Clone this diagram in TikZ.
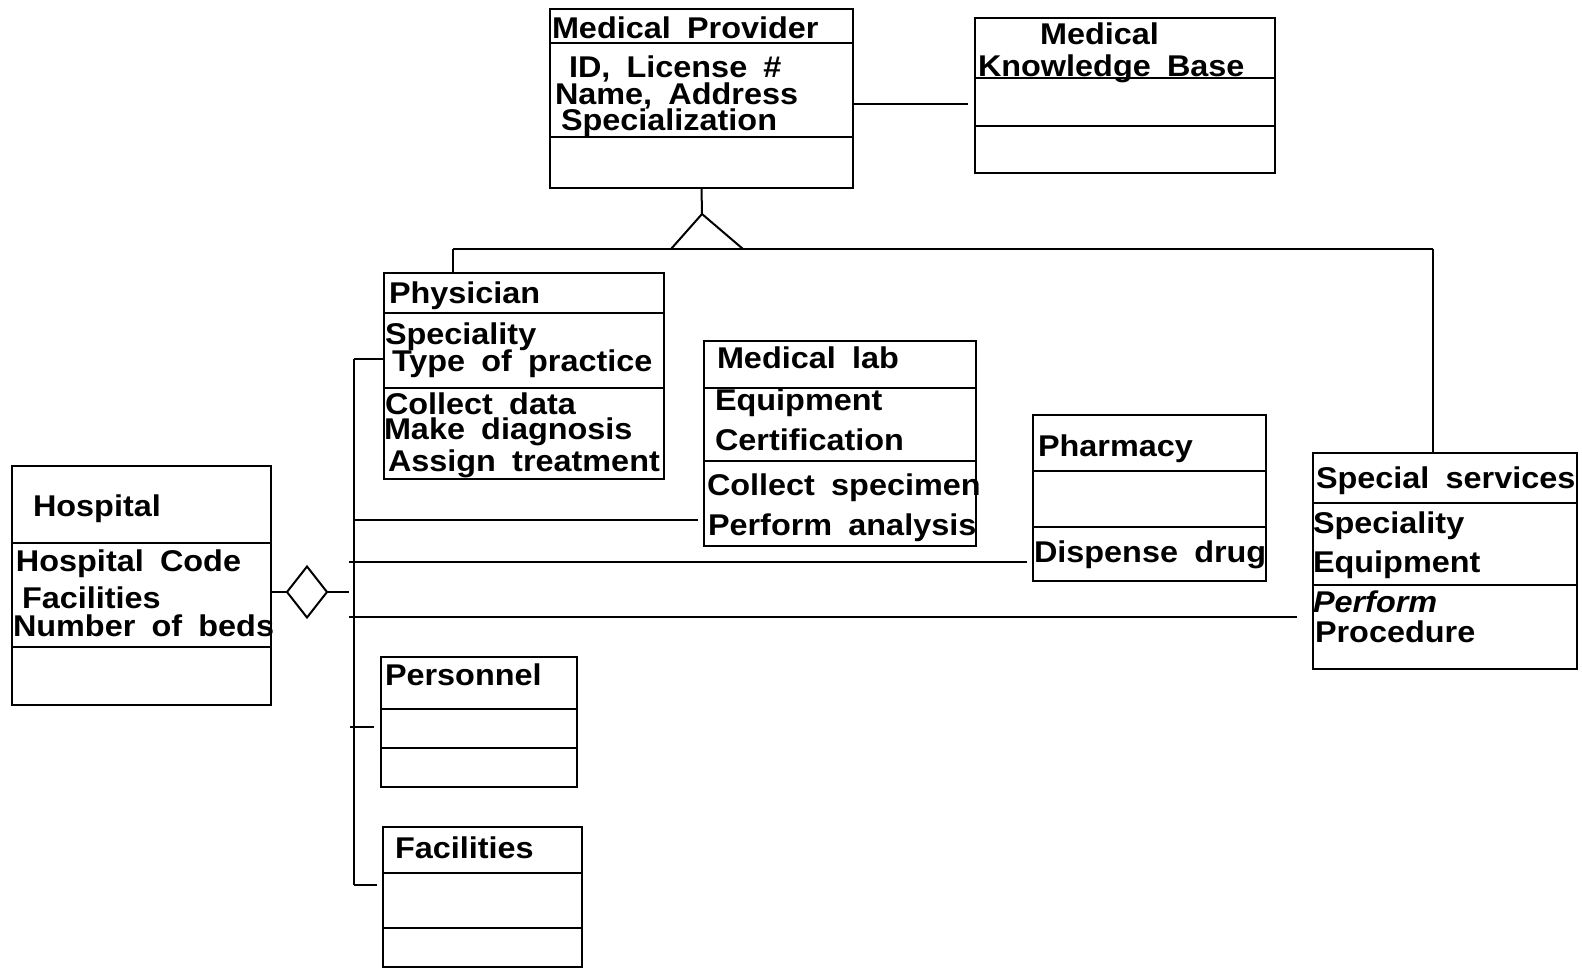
\documentclass[tikz,border=0pt]{standalone}
\usepackage{fontspec}
\newfontfamily\umlfont{Liberation Sans}[FakeStretch=1.08, WordSpace=1.8]
\usetikzlibrary{shapes.geometric,calc}

\tikzset{
  classbox/.style={draw, line width=2.4pt, inner sep=0pt, outer sep=0pt, anchor=north west},
  sep/.style={line width=2pt},
  link/.style={line width=2pt},
  txt/.style={anchor=base west, inner sep=0pt, outer sep=0pt,
              font=\umlfont\bfseries\fontsize{30}{34}\selectfont},
  txtit/.style={txt, font=\umlfont\bfseries\itshape\fontsize{30}{34}\selectfont},
}

\begin{document}
\begin{tikzpicture}[x=1pt, y=-1pt]
\useasboundingbox (0,0) rectangle (1582,970);

% ---------- Medical Provider ----------
\node[classbox, minimum width=303pt, minimum height=179pt] (mp) at (550,9) {};
\draw[sep] (mp.west |- 0,43) -- (mp.east |- 0,43);
\draw[sep] (mp.west |- 0,137) -- (mp.east |- 0,137);
\node[txt] (mp-name) at (552,38) {Medical Provider};
\node[txt] (mp-a1) at (569,77) {ID, License \#};
\node[txt] (mp-a2) at (555,104) {Name, Address};
\node[txt] (mp-a3) at (561,130) {Specialization};

% ---------- Medical Knowledge Base ----------
\node[classbox, minimum width=300pt, minimum height=155pt] (mkb) at (975,18) {};
\draw[sep] (mkb.west |- 0,78) -- (mkb.east |- 0,78);
\draw[sep] (mkb.west |- 0,126) -- (mkb.east |- 0,126);
\node[txt] (mkb-n1) at (1040,44) {Medical};
\node[txt] (mkb-n2) at (978,76) {Knowledge Base};

\draw[link] (mp.east |- 0,104) -- ($(mkb.west |- 0,104)+(-7,0)$);

% ---------- Physician ----------
\node[classbox, minimum width=280pt, minimum height=206pt] (phys) at (384,273) {};
\draw[sep] (phys.west |- 0,313) -- (phys.east |- 0,313);
\draw[sep] (phys.west |- 0,388) -- (phys.east |- 0,388);
\node[txt] (phys-name) at (389,303) {Physician};
\node[txt] (phys-a1) at (385,344) {Speciality};
\node[txt] (phys-a2) at (392,371) {Type of practice};
\node[txt] (phys-o1) at (385,414) {Collect data};
\node[txt] (phys-o2) at (384,439) {Make diagnosis};
\node[txt] (phys-o3) at (388,471) {Assign treatment};

% ---------- Medical lab ----------
\node[classbox, minimum width=272pt, minimum height=205pt] (lab) at (704,341) {};
\draw[sep] (lab.west |- 0,388) -- (lab.east |- 0,388);
\draw[sep] (lab.west |- 0,461) -- (lab.east |- 0,461);
\node[txt] (lab-name) at (717,368) {Medical lab};
\node[txt] (lab-a1) at (715,410) {Equipment};
\node[txt] (lab-a2) at (715,450) {Certification};
\node[txt] (lab-o1) at (707,495) {Collect specimen};
\node[txt] (lab-o2) at (708,535) {Perform analysis};

% ---------- Pharmacy ----------
\node[classbox, minimum width=233pt, minimum height=166pt] (pharm) at (1033,415) {};
\draw[sep] (pharm.west |- 0,471) -- (pharm.east |- 0,471);
\draw[sep] (pharm.west |- 0,527) -- (pharm.east |- 0,527);
\node[txt] (pharm-name) at (1038,456) {Pharmacy};
\node[txt] (pharm-o1) at (1034,562) {Dispense drug};

% ---------- Special services ----------
\node[classbox, minimum width=264pt, minimum height=216pt] (spec) at (1313,453) {};
\draw[sep] (spec.west |- 0,503) -- (spec.east |- 0,503);
\draw[sep] (spec.west |- 0,585) -- (spec.east |- 0,585);
\node[txt] (spec-name) at (1316,488) {Special services};
\node[txt] (spec-a1) at (1313,533) {Speciality};
\node[txt] (spec-a2) at (1313,572) {Equipment};
\node[txtit] (spec-o1) at (1313,612) {Perform};
\node[txt] (spec-o2) at (1315,642) {Procedure};

% ---------- Hospital ----------
\node[classbox, minimum width=259pt, minimum height=239pt] (hosp) at (12,466) {};
\draw[sep] (hosp.west |- 0,543) -- (hosp.east |- 0,543);
\draw[sep] (hosp.west |- 0,647) -- (hosp.east |- 0,647);
\node[txt] (hosp-name) at (33,516) {Hospital};
\node[txt] (hosp-a1) at (16,571) {Hospital Code};
\node[txt] (hosp-a2) at (22,608) {Facilities};
\node[txt] (hosp-a3) at (13,636) {Number of beds};

% ---------- Personnel ----------
\node[classbox, minimum width=196pt, minimum height=130pt] (pers) at (381,657) {};
\draw[sep] (pers.west |- 0,709) -- (pers.east |- 0,709);
\draw[sep] (pers.west |- 0,748) -- (pers.east |- 0,748);
\node[txt] (pers-name) at (385,685) {Personnel};

% ---------- Facilities ----------
\node[classbox, minimum width=199pt, minimum height=140pt] (fac) at (383,827) {};
\draw[sep] (fac.west |- 0,873) -- (fac.east |- 0,873);
\draw[sep] (fac.west |- 0,928) -- (fac.east |- 0,928);
\node[txt] (fac-name) at (395,858) {Facilities};

% ---------- Generalization: Medical Provider subtypes ----------
\coordinate (apex) at (702,214);
\coordinate (gen-l) at (453,249);
\coordinate (gen-r) at (1433,249);
\draw[link] (mp.south) -- (apex);
\draw[link] (671,249) -- (apex) -- (743,249);
\draw[link] (gen-l) -- (gen-r);
\draw[link] (gen-l) -- (gen-l |- phys.north);
\draw[link] (gen-r) -- (gen-r |- spec.north);

% ---------- Aggregation: Hospital parts ----------
\node[draw, diamond, line width=2pt, inner sep=0pt, outer sep=0pt,
      minimum width=40pt, minimum height=51pt] (agg) at (307,592) {};
\draw[link] (hosp.east |- agg.west) -- (agg.west);
\coordinate (bus-top) at (354,359);
\coordinate (bus-bot) at (354,885);
\draw[link] (agg.east) -- ($(bus-top |- agg.east)+(-5,0)$);
\draw[link] (bus-top) -- (bus-bot);
\draw[link] (bus-top) -- (bus-top -| phys.west);
\draw[link] (bus-top |- 0,520) -- ($(lab.west |- 0,520)+(-6,0)$);
\draw[link] ($(bus-top |- 0,562)+(-5,0)$) -- ($(pharm.west |- 0,562)+(-6,0)$);
\draw[link] ($(bus-top |- 0,617)+(-5,0)$) -- ($(spec.west |- 0,617)+(-16,0)$);
\draw[link] ($(bus-top |- 0,727)+(-4,0)$) -- ($(pers.west |- 0,727)+(-7,0)$);
\draw[link] (bus-bot) -- ($(fac.west |- bus-bot)+(-6,0)$);

\end{tikzpicture}
\end{document}
